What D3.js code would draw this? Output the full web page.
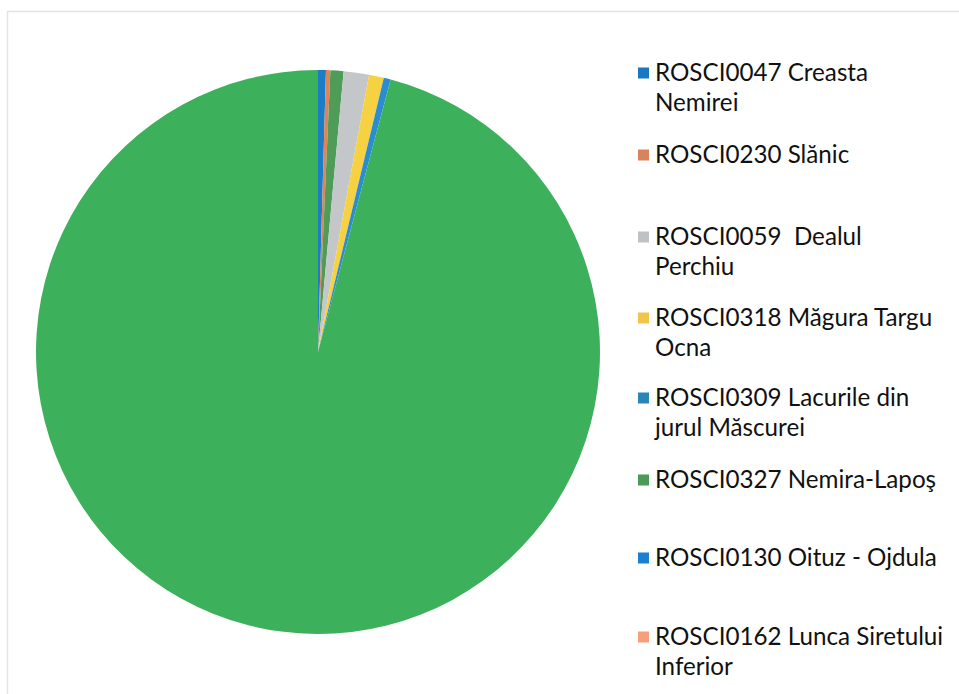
<!DOCTYPE html>
<html>
<head>
<meta charset="utf-8">
<script src="https://cdn.jsdelivr.net/npm/d3@7"></script>
<style>
  html, body { margin: 0; padding: 0; background: #ffffff; }
  svg { display: block; }
  text { white-space: pre; }
</style>
</head>
<body>
<svg id="chart" width="959" height="694"></svg>
<script>
// Pie slices in clockwise order from 12 o'clock (percent shares)
const pieNames = [
  "ROSCI0047 Creasta Nemirei",
  "ROSCI0230 Slănic",
  "ROSCI0327 Nemira-Lapoş",
  "ROSCI0059  Dealul Perchiu",
  "ROSCI0318 Măgura Targu Ocna",
  "ROSCI0309 Lacurile din jurul Măscurei",
  "Rest"
];
const pieValues = [0.45, 0.25, 0.75, 1.45, 0.85, 0.4, 95.85];
const pieColors = ["#1c7cc6", "#dd8558", "#4f9b58", "#c3c7c9", "#f6d243", "#2a8dd2", "#3db05c"];

// Legend entries (as printed, with line breaks)
const legendLines = [
  ["ROSCI0047 Creasta", "Nemirei"],
  ["ROSCI0230 Slănic"],
  ["ROSCI0059  Dealul", "Perchiu"],
  ["ROSCI0318 Măgura Targu", "Ocna"],
  ["ROSCI0309 Lacurile din", "jurul Măscurei"],
  ["ROSCI0327 Nemira-Lapoş"],
  ["ROSCI0130 Oituz - Ojdula"],
  ["ROSCI0162 Lunca Siretului", "Inferior"]
];
const legendColors = ["#1a78c2", "#d9825c", "#bfc2c4", "#f2c44a", "#2a86b8", "#4c9a55", "#1d7fd0", "#f4a07a"];
const legendRowY = [73, 155, 237, 318, 398, 480, 558, 637];

const svg = d3.select("#chart");

// faint frame
svg.append("path")
  .attr("d", "M7.5,700 L7.5,11.5 L965,11.5")
  .attr("fill", "none")
  .attr("stroke", "#e4e4e4")
  .attr("stroke-width", 1.5);

const cx = 318, cy = 352, r = 282;
const pie = d3.pie().sort(null).value(d => d.v);
const arc = d3.arc().innerRadius(0).outerRadius(r);
const data = pieNames.map((n, i) => ({ name: n, v: pieValues[i], c: pieColors[i] }));

svg.append("g")
  .attr("transform", `translate(${cx},${cy})`)
  .selectAll("path")
  .data(pie(data))
  .join("path")
  .attr("d", arc)
  .attr("fill", d => d.data.c);

// Legend
const lg = svg.append("g");
const lineH = 29.5;
legendLines.forEach((lines, i) => {
  const y = legendRowY[i];
  lg.append("rect")
    .attr("x", 638).attr("y", y - 5.5)
    .attr("width", 11).attr("height", 11)
    .attr("fill", legendColors[i]);
  lines.forEach((t, j) => {
    lg.append("text")
      .attr("x", 655)
      .attr("y", y + 8 + j * lineH)
      .attr("font-family", "Lato, 'Open Sans', sans-serif")
      .attr("font-size", 24.2)
      .attr("fill", "#111111")
      .text(t);
  });
});
</script>
</body>
</html>
